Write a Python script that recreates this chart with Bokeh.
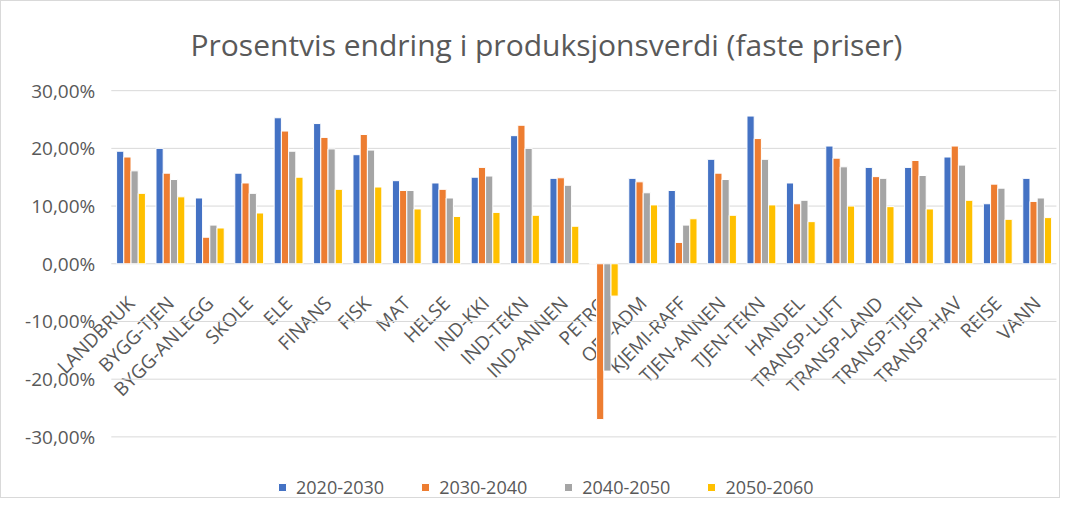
import math
from bokeh.plotting import figure
from bokeh.models import (Range1d, FixedTicker, CustomJSTickFormatter,
                          Legend, LegendItem, ColumnDataSource)
from bokeh.transform import dodge
from bokeh.embed import file_html
from bokeh.resources import INLINE

# ---------------- data ----------------
sectors = ["LANDBRUK", "BYGG-TJEN", "BYGG-ANLEGG", "SKOLE", "ELE", "FINANS", "FISK",
           "MAT", "HELSE", "IND-KKI", "IND-TEKN", "IND-ANNEN", "PETRO", "OFF-ADM",
           "KJEMI-RAFF", "TJEN-ANNEN", "TJEN-TEKN", "HANDEL", "TRANSP-LUFT",
           "TRANSP-LAND", "TRANSP-TJEN", "TRANSP-HAV", "REISE", "VANN"]
periods = ["2020-2030", "2030-2040", "2040-2050", "2050-2060"]
v2020_2030 = [19.5, 20.0, 11.4, 15.7, 25.3, 24.3, 18.9, 14.4, 14.0, 15.0, 22.2, 14.8,
              0.0, 14.8, 12.7, 18.1, 25.6, 14.0, 20.4, 16.7, 16.7, 18.5, 10.4, 14.8]
v2030_2040 = [18.5, 15.7, 4.6, 14.0, 23.0, 21.9, 22.4, 12.7, 12.9, 16.7, 24.0, 14.9,
              -27.0, 14.2, 3.7, 15.7, 21.7, 10.4, 18.3, 15.1, 17.9, 20.4, 13.8, 10.8]
v2040_2050 = [16.1, 14.6, 6.7, 12.2, 19.5, 19.9, 19.7, 12.7, 11.4, 15.2, 20.0, 13.6,
              -18.6, 12.3, 6.7, 14.6, 18.1, 11.0, 16.8, 14.8, 15.3, 17.1, 13.1, 11.4]
v2050_2060 = [12.2, 11.6, 6.2, 8.8, 15.0, 12.9, 13.3, 9.5, 8.2, 8.9, 8.4, 6.5,
              -5.6, 10.2, 7.8, 8.4, 10.2, 7.3, 10.0, 9.9, 9.5, 11.0, 7.7, 8.0]
y_ticks = [-30, -20, -10, 0, 10, 20, 30]
title_text = "Prosentvis endring i produksjonsverdi (faste priser)"

# ---------------- styles ----------------
colors = ["#4472C4", "#ED7D31", "#A5A5A5", "#FFC000"]
offsets = [-0.2745, -0.0915, 0.0915, 0.2745]
bar_w = 0.183
txt = "#595959"
grid_c = "#d9d9d9"
font = "Open Sans"

n = len(sectors)
xs = list(range(n))
source = ColumnDataSource(data=dict(x=xs, a=v2020_2030, b=v2030_2040,
                                    c=v2040_2050, d=v2050_2060))
cols = ["a", "b", "c", "d"]

# frame covers the whole canvas below the title so that labels and legend are not clipped
p = figure(width=1060, height=498,
           x_range=Range1d(-3.287, 23.49), y_range=Range1d(-40.85, 32.8),
           output_backend="svg", toolbar_location=None,
           min_border_left=0, min_border_right=5, min_border_top=73, min_border_bottom=0)
p.outline_line_color = None
p.styles = {"border": "1px solid #d9d9d9"}

p.title.text = title_text
p.title.text_font = font
p.title.text_font_size = "30px"
p.title.text_font_style = "normal"
p.title.text_color = txt
p.title.align = "left"
p.title.offset = 189
p.title.standoff = 20

# horizontal gridlines spanning the category area only
p.xgrid.visible = False
p.ygrid.visible = False
p.segment(x0=-0.5, x1=n - 0.5, y0=y_ticks, y1=y_ticks, line_color=grid_c, line_width=1)

renderers = []
for col, off, c in zip(cols, offsets, colors):
    r = p.vbar(x=dodge("x", off), top=col, width=bar_w, source=source,
               fill_color=c, line_color="white", line_width=1)
    renderers.append(r)

p.yaxis.fixed_location = -0.5
p.yaxis.ticker = FixedTicker(ticks=y_ticks, minor_ticks=[])
p.yaxis.formatter = CustomJSTickFormatter(code="return tick.toFixed(2).replace('.', ',') + '%';")
p.yaxis.axis_line_color = None
p.yaxis.major_tick_line_color = None
p.yaxis.minor_tick_line_color = None
p.yaxis.major_label_standoff = 10
p.yaxis.major_label_text_font = font
p.yaxis.major_label_text_font_size = "19px"
p.yaxis.major_label_text_color = txt

p.xaxis.fixed_location = 0
p.xaxis.ticker = FixedTicker(ticks=xs, minor_ticks=[])
p.xaxis.major_label_overrides = {i: s for i, s in zip(xs, sectors)}
p.xaxis.major_label_orientation = math.pi / 4
p.xaxis.axis_line_color = None
p.xaxis.major_tick_line_color = None
p.xaxis.minor_tick_line_color = None
p.xaxis.major_label_standoff = 30
p.xaxis.major_label_text_font = font
p.xaxis.major_label_text_font_size = "19px"
p.xaxis.major_label_text_color = txt
p.xaxis.level = "underlay"

legend = Legend(items=[LegendItem(label=lab, renderers=[r]) for lab, r in zip(periods, renderers)],
                orientation="horizontal", location=(276, 0), padding=0, spacing=36,
                glyph_width=10, glyph_height=10, label_standoff=9,
                label_text_font=font, label_text_font_size="18px", label_text_color=txt,
                border_line_color=None, background_fill_alpha=0)
p.add_layout(legend, "center")

open("out.html", "w").write(file_html(p, INLINE))
